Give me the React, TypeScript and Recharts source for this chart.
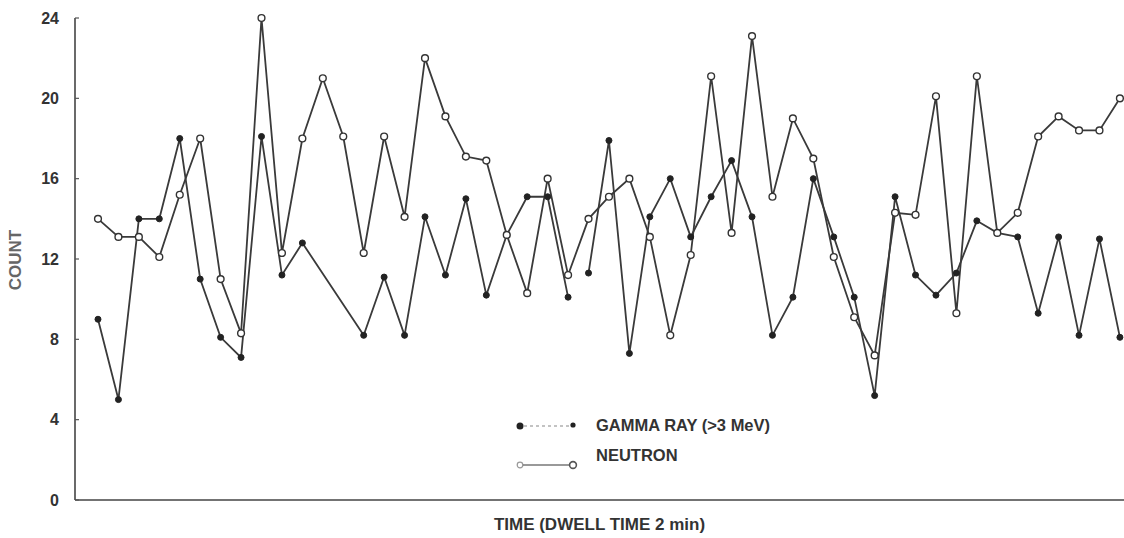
import React from 'react'
import { LineChart, Line, XAxis, YAxis } from 'recharts'

// counts per dwell interval (2 min each)
const NEUTRON = [
  14, 13.1, 13.1, 12.1, 15.2, 18, 11, 8.3, 24, 12.3,
  18, 21, 18.1, 12.3, 18.1, 14.1, 22, 19.1, 17.1, 16.9,
  13.2, 10.3, 16, 11.2, 14, 15.1, 16, 13.1, 8.2, 12.2,
  21.1, 13.3, 23.1, 15.1, 19, 17, 12.1, 9.1, 7.2, 14.3,
  14.2, 20.1, 9.3, 21.1, 13.3, 14.3, 18.1, 19.1, 18.4, 18.4,
  20,
]

const GAMMA = [
  9, 5, 14, 14, 18, 11, 8.1, 7.1, 18.1, 11.2,
  12.8, null, null, 8.2, 11.1, 8.2, 14.1, 11.2, 15, 10.2,
  13.2, 15.1, 15.1, 10.1, 11.3, 17.9, 7.3, 14.1, 16, 13.1,
  15.1, 16.9, 14.1, 8.2, 10.1, 16, 13.1, 10.1, 5.2, 15.1,
  11.2, 10.2, 11.3, 13.9, 13.3, 13.1, 9.3, 13.1, 8.2, 13,
  8.1,
]

// gamma trace is broken (pen lifted) before this interval
const GAMMA_BREAK = 24

const Y_TICKS = [0, 4, 8, 12, 16, 20, 24]

const FONT = '"Liberation Sans", Arial, sans-serif'
const INK = '#333'

const data = NEUTRON.map((n, i) => ({
  t: i,
  neutron: n,
  gammaA: i < GAMMA_BREAK ? GAMMA[i] : null,
  gammaB: i >= GAMMA_BREAK ? GAMMA[i] : null,
}))

const YTick = (props: any) => {
  const { x, y, payload } = props
  return (
    <g>
      <text x={x} y={y} dy={5.5} textAnchor="end" fontFamily={FONT} fontWeight="bold" fontSize={16} fill={INK}>
        {payload.value}
      </text>
      <line x1={x + 16} x2={x + 20} y1={y} y2={y} stroke="#555" strokeWidth={1.2} />
    </g>
  )
}

function ChartLegend() {
  const textStyle: React.CSSProperties = {
    fontFamily: FONT, fontWeight: 'bold', fontSize: 16.5, color: INK, marginLeft: 12, lineHeight: '18px',
  }
  return (
    <div style={{ position: 'absolute', left: 510, top: 414 }}>
      <div style={{ display: 'flex', alignItems: 'center', height: 22 }}>
        <svg width={74} height={20}>
          <circle cx={10} cy={11} r={3.5} fill="#222" />
          <line x1={14} x2={62} y1={11} y2={11} stroke="#888" strokeWidth={1.2} strokeDasharray="3 3" />
          <circle cx={63} cy={10} r={2.6} fill="#222" />
        </svg>
        <span style={textStyle}>GAMMA RAY (&gt;3 MeV)</span>
      </div>
      <div style={{ display: 'flex', alignItems: 'flex-start', height: 30, marginTop: 10 }}>
        <svg width={74} height={30}>
          <circle cx={10} cy={19} r={2.8} fill="#fff" stroke="#999" strokeWidth={1.2} />
          <line x1={13} x2={60} y1={19} y2={19} stroke="#777" strokeWidth={1.3} />
          <circle cx={63} cy={19} r={3.4} fill="#fff" stroke="#555" strokeWidth={1.6} />
        </svg>
        <span style={textStyle}>NEUTRON</span>
      </div>
    </div>
  )
}

export default function App() {
  return (
    <div style={{ width: 1124, height: 538, background: '#fff', position: 'relative' }}>
      <style>{'body{margin:0}'}</style>
      <LineChart width={1124} height={538} data={data} margin={{ top: 18, right: 0, bottom: 0, left: 0 }}>
        <XAxis
          dataKey="t"
          type="number"
          domain={[-1.125, 50.2]}
          allowDataOverflow
          ticks={data.map(d => d.t)}
          interval={0}
          height={38}
          tick={false}
          tickSize={3}
          tickLine={{ stroke: '#aaa' }}
          axisLine={{ stroke: '#444', strokeWidth: 1.6 }}
          label={{
            value: 'TIME (DWELL TIME 2 min)',
            position: 'insideBottom',
            offset: 8,
            style: { fontFamily: FONT, fontWeight: 'bold', fontSize: 17, fill: INK },
          }}
        />
        <YAxis
          type="number"
          domain={[0, 24]}
          ticks={Y_TICKS}
          width={75}
          tickSize={0}
          tickMargin={16}
          tickLine={false}
          tick={<YTick />}
          axisLine={{ stroke: '#444', strokeWidth: 1.6 }}
          label={{
            value: 'COUNT',
            content: () => (
              <text
                x={15}
                y={260}
                transform="rotate(-90 15 260)"
                textAnchor="middle"
                dominantBaseline="central"
                fontFamily={FONT}
                fontWeight="bold"
                fontSize={17}
                fill="#666"
              >
                COUNT
              </text>
            ),
          }}
        />
        <Line
          dataKey="gammaA"
          name="GAMMA RAY (>3 MeV)"
          stroke="#3a3a3a"
          strokeWidth={1.8}
          connectNulls
          dot={{ r: 3, fill: '#222', stroke: '#222', strokeWidth: 1 }}
          activeDot={false}
          isAnimationActive={false}
        />
        <Line
          dataKey="gammaB"
          name="GAMMA RAY (>3 MeV)"
          stroke="#3a3a3a"
          strokeWidth={1.8}
          dot={{ r: 3, fill: '#222', stroke: '#222', strokeWidth: 1 }}
          activeDot={false}
          isAnimationActive={false}
        />
        <Line
          dataKey="neutron"
          name="NEUTRON"
          stroke="#3a3a3a"
          strokeWidth={1.8}
          dot={{ r: 3.4, fill: '#fff', stroke: '#333', strokeWidth: 1.4 }}
          activeDot={false}
          isAnimationActive={false}
        />
      </LineChart>
      <ChartLegend />
    </div>
  )
}
